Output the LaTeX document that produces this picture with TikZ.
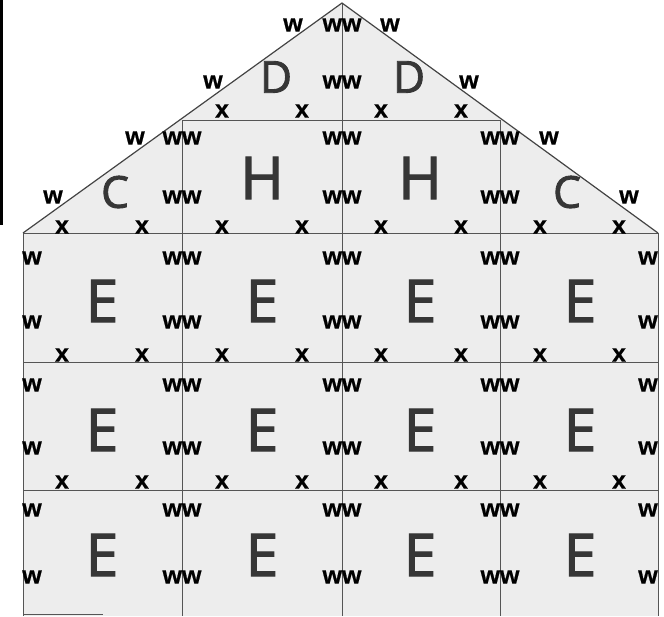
\documentclass[tikz,border=0pt]{standalone}
\usepackage{fontspec}
\newfontfamily\bigf{Open Sans}[FakeBold=2]
\newfontfamily\smallf{Liberation Sans}[FakeBold=0.6]
\definecolor{fillc}{HTML}{EDEDED}
\definecolor{linec}{HTML}{555555}
\definecolor{bigc}{HTML}{363636}
\begin{document}
\begin{tikzpicture}[x=1pt,y=-1pt,
  wl/.style={font=\smallf\bfseries\fontsize{25}{25}\selectfont, inner sep=0pt},
  big/.style={font=\bigf\fontsize{59}{59}\selectfont, text=bigc, inner sep=0pt},
  mid/.style={font=\bigf\fontsize{44}{44}\selectfont, text=bigc, inner sep=0pt},
  gridline/.style={draw=linec, line width=0.9pt},
  roofline/.style={draw=linec!80!black, line width=1.2pt}]
\useasboundingbox (0,0) rectangle (664,616);
% left black bar
\draw[black, line width=3pt] (1.5,0) -- (1.5,225);
% house fill
\fill[fillc] (23,233) -- (342,3) -- (658,233) -- (658,616) -- (23,616) -- cycle;
% grid
\coordinate (apex) at (342,3);
\coordinate (el) at (23,233);
\coordinate (er) at (658,233);
\draw[gridline] (182,120) -- (500,120);
\draw[gridline] (el) -- (er);
\draw[gridline] (23,362) -- (658,362);
\draw[gridline] (23,490) -- (658,490);
\draw[gridline] (182,120) -- (182,616);
\draw[gridline] (apex) -- (342,616);
\draw[gridline] (500,120) -- (500,616);
\draw[gridline] (el) -- (23,616);
\draw[gridline] (er) -- (658,616);
\draw[gridline] (23,614) -- (103,614);
\draw[roofline] (el) -- (apex) -- (er);
% x marks
\foreach \y in {227,355,482}
  \foreach \x in {62,142,222,302,381,461,540,619}
    \node[wl] at (\x,\y) {x};
\foreach \x in {222,302,381,461}
  \node[wl] at (\x,111) {x};
% ww on verticals
\foreach \y in {138,197,258,322,385,448,510,577}
  \foreach \x in {182,342,500}
    \node[wl] at (\x,\y) {ww};
\foreach \y in {25,82}
  \node[wl] at (342,\y) {ww};
% w on walls
\foreach \y in {258,322,385,448,510,577} {
  \node[wl] at (32,\y) {w};
  \node[wl] at (648,\y) {w};
}
% w on roof
\foreach \x/\y in {293/25,390/25,213/82,469/82,135/138,549/138,53/197,629/197}
  \node[wl] at (\x,\y) {w};
% big letters
\node[mid] (d1) at (276,77) {D};
\node[mid] (d2) at (409,77) {D};
\node[big] (h1) at (262,178) {H};
\node[big] (h2) at (420,178) {H};
\node[mid] (c1) at (115,192) {C};
\node[mid] (c2) at (567,192) {C};
\foreach \y in {301,430,555}
  \foreach \x in {102,262,420,580}
    \node[big] at (\x,\y) {E};
\end{tikzpicture}
\end{document}
